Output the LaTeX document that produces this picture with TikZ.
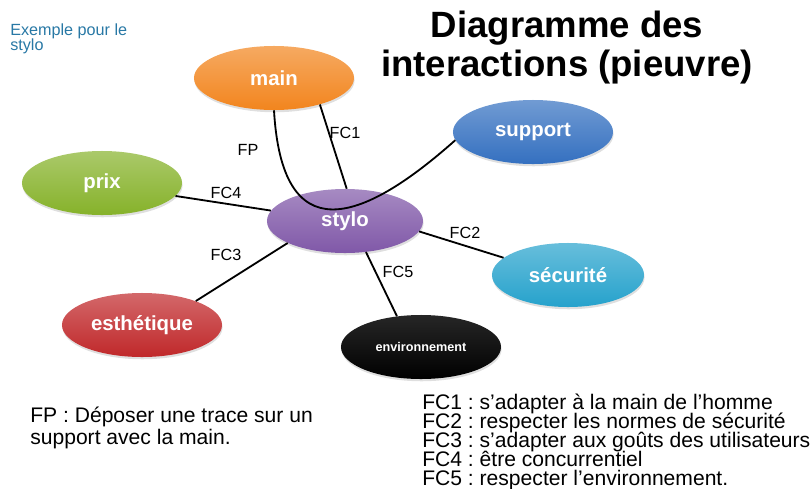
\documentclass[tikz,border=0pt]{standalone}
\usepackage{fontspec}
\setmainfont{Liberation Sans}
\usepackage{xcolor}
\usetikzlibrary{shapes.geometric, shadows}
\frenchspacing
\newcommand{\tightlines}{\lineskiplimit=-10pt\relax}
\definecolor{mainorange}{RGB}{242,133,30}
\definecolor{prixgreen}{RGB}{134,178,42}
\definecolor{stylopurple}{RGB}{128,88,168}
\definecolor{supportblue}{RGB}{52,112,192}
\definecolor{secucyan}{RGB}{38,162,204}
\definecolor{esthred}{RGB}{192,40,42}
\definecolor{envblack}{RGB}{0,0,0}
\definecolor{notecolor}{RGB}{40,120,165}
\tikzset{
    octo/.style={ellipse, minimum width=4cm, minimum height=1.6cm, inner sep=0pt, text centered, text=white, font=\fontsize{14.5}{17}\selectfont\bfseries, top color=#1!70!white, bottom color=#1, drop shadow={opacity=0.25, shadow xshift=0.4pt, shadow yshift=-1.6pt}},
    link/.style={line width=1.3pt, black},
    lbl/.style={font=\fontsize{11.5}{13}\selectfont, inner sep=0pt},
    legend/.style={align=left, anchor=north west, inner sep=0pt}
}

\begin{document}
\begin{tikzpicture}[x=0.025cm, y=-0.025cm]
    \useasboundingbox (0,0) rectangle (810,488);
    % Titles
    \node[font=\fontsize{26}{27.7}\selectfont\bfseries, align=center] (title) at (567,48) {Diagramme des\\interactions (pieuvre)};
    \node[legend, text=notecolor, font=\fontsize{11.5}{11}\selectfont] (note) at (10,23) {Exemple pour le\\stylo};

    % Elements around the product
    \node[octo=mainorange] (main) at (274,78) {main};
    \node[octo=prixgreen] (prix) at (102,183) {prix};
    \node[octo=supportblue] (support) at (533,132) {support};
    \node[octo=secucyan, minimum width=3.8cm] (securite) at (568,275) {sécurité};
    \node[octo=esthred] (esthetique) at (142,325) {esthétique};
    \node[octo=envblack, top color=black!85!white, font=\fontsize{9}{11}\selectfont\bfseries] (environnement) at (421,347) {environnement};

    % Product
    \node[octo=stylopurple, minimum width=3.9cm] (stylo) at (345,221) {stylo};

    % Interactions
    \draw[link] (prix.-10) -- (stylo.172);
    \draw[link] (main.-30) -- (stylo.87);
    \draw[link] (stylo.-8) -- (securite.165);
    \draw[link] (stylo.201) -- (esthetique.24);
    \draw[link] (stylo.-56) -- (environnement.128);
    \draw[link] (main.south) .. controls (282,250) and (360,225) .. (support.186);

    % Function labels
    \node[lbl] (fp) at (248,150) {FP};
    \node[lbl] (fc1) at (345,133) {FC1};
    \node[lbl] (fc2) at (465,233) {FC2};
    \node[lbl] (fc3) at (226,255) {FC3};
    \node[lbl] (fc4) at (226,193) {FC4};
    \node[lbl] (fc5) at (398,272) {FC5};

    % Legends
    \node[legend, font={\fontsize{15}{15.5}\selectfont\tightlines}] (fptext) at (30,407) {FP : Déposer une trace sur un\\support avec la main.};
    \node[legend, font={\fontsize{15}{13.5}\selectfont\tightlines}] (fctext) at (422,394) {FC1 : s’adapter à la main de l’homme\\FC2 : respecter les normes de sécurité\\FC3 : s’adapter aux goûts des utilisateurs\\FC4 : être concurrentiel\\FC5 : respecter l’environnement.};
\end{tikzpicture}
\end{document}
